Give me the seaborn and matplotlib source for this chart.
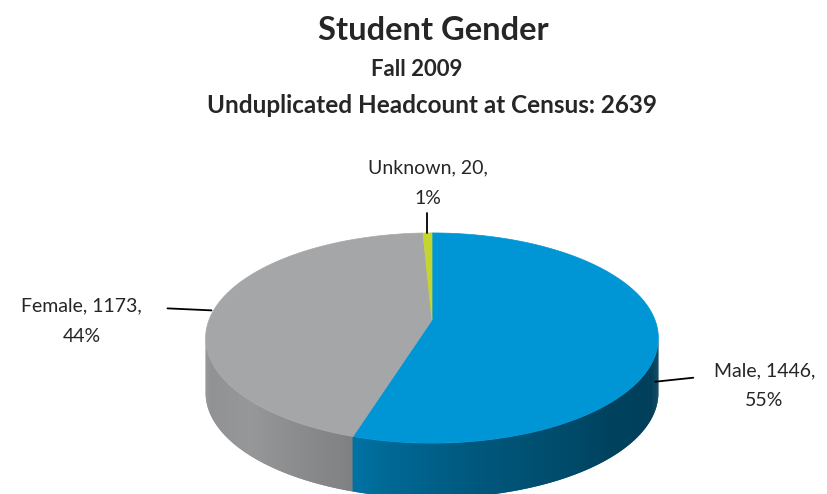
import numpy as np
import matplotlib
matplotlib.use("Agg")
import matplotlib.pyplot as plt
import seaborn as sns
from matplotlib.patches import Polygon

# ── Data ──────────────────────────────────────────────────────────────────────
labels = ["Male", "Female", "Unknown"]
counts = [1446, 1173, 20]
colors = ["#0096D6", "#A5A6A8", "#C4D62E"]
title = "Student Gender"
subtitle1 = "Fall 2009"
subtitle2 = "Unduplicated Headcount at Census: 2639"

# ── Style ─────────────────────────────────────────────────────────────────────
sns.set_theme(style="white")
plt.rcParams["font.family"] = ["Lato", "DejaVu Sans"]

# ── Geometry of the 3D pie (pixel space) ──────────────────────────────────────
cx, cy = 432, 320      # apex of the pie on screen
a, b = 223, 102        # semi-axes of the top face
k = 0.1716             # perspective strength
depth = 55             # thickness of the pie


def rim(t):
    t = np.radians(t)
    s = 1.0 / (1.0 + k * np.sin(t))
    return cx + a * np.cos(t) * s, cy - b * np.sin(t) * s


def shade(t):
    # lighting along the visible side, front-left is brightest
    return np.interp(t, [-180, -135, -110, -100, -80, -45, -10, 0],
                     [0.84, 0.91, 0.79, 0.70, 0.58, 0.44, 0.40, 0.40])


fracs = np.array(counts) / np.sum(counts)
cum = np.concatenate([[0], np.cumsum(fracs)])
starts = 90 - cum[:-1] * 360   # clockwise from 12 o'clock
ends = 90 - cum[1:] * 360


def slice_at(t):
    f = ((90 - t) % 360) / 360
    return int(np.clip(np.searchsorted(cum, f, side="right") - 1, 0, len(counts) - 1))


fig = plt.figure(figsize=(8.27, 4.94), dpi=100)
ax = fig.add_axes([0, 0, 1, 1])
ax.set_xlim(0, 827)
ax.set_ylim(494, 0)
ax.axis("off")

# side wall, drawn as thin overlapping shaded strips
t_lo = -180 + np.degrees(np.arcsin(k))
t_hi = -np.degrees(np.arcsin(k))
grid = np.linspace(t_lo, t_hi, 320)
dt = grid[1] - grid[0]
for t0, t1 in zip(grid[:-1], grid[1:]):
    tm = (t0 + t1) / 2
    i = slice_at(tm)
    base = np.array(matplotlib.colors.to_rgb(colors[i]))
    c = np.clip(base * shade(tm), 0, 1)
    t2 = min(t1 + dt, t_hi)
    ts = np.linspace(t0, t2, 4)
    xs, ys = rim(ts)
    pts = list(zip(xs, ys)) + list(zip(xs[::-1], ys[::-1] + depth))
    ax.add_patch(Polygon(pts, closed=True, facecolor=c, edgecolor="none"))

# top faces
for i in range(len(counts)):
    ts = np.linspace(starts[i], ends[i], 200)
    xs, ys = rim(ts)
    pts = [(cx, cy)] + list(zip(xs, ys))
    ax.add_patch(Polygon(pts, closed=True, facecolor=colors[i],
                         edgecolor=colors[i], lw=0.5))

# ── Labels with leader lines ──────────────────────────────────────────────────
mids = (starts + ends) / 2
pct = [f"{round(f * 100):.0f}%" for f in fracs]
label_fs = 14
ls = 1.95

# Male: anchor on the side wall, label to the right
mx, my = rim(mids[0])
ax.plot([mx - 3, mx + 35], [my + 46, my + 42], color="black", lw=1.3)
ax.text(mx + 106, my + 50, f"{labels[0]}, {counts[0]},\n{pct[0]}",
        ha="center", va="center", fontsize=label_fs, linespacing=ls)

# Female: label to the left
fx, fy = rim(mids[1])
ax.plot([fx - 4, fx - 48], [fy + 3, fy + 1], color="black", lw=1.3)
ax.text(fx - 134, fy + 14, f"{labels[1]}, {counts[1]},\n{pct[1]}",
        ha="center", va="center", fontsize=label_fs, linespacing=ls)

# Unknown: label above
ux, uy = rim(mids[2])
ax.plot([ux, ux], [uy, uy - 20], color="black", lw=1.3)
ax.text(ux, uy - 50, f"{labels[2]}, {counts[2]},\n{pct[2]}",
        ha="center", va="center", fontsize=label_fs, linespacing=ls)

# ── Titles ────────────────────────────────────────────────────────────────────
ax.text(433, 31, title, ha="center", va="center", fontsize=23.5, fontweight="bold")
ax.text(417, 70, subtitle1, ha="center", va="center", fontsize=16, fontweight="bold")
ax.text(432, 105, subtitle2, ha="center", va="center", fontsize=17.5, fontweight="bold")

fig.savefig("out.png", dpi=100)
